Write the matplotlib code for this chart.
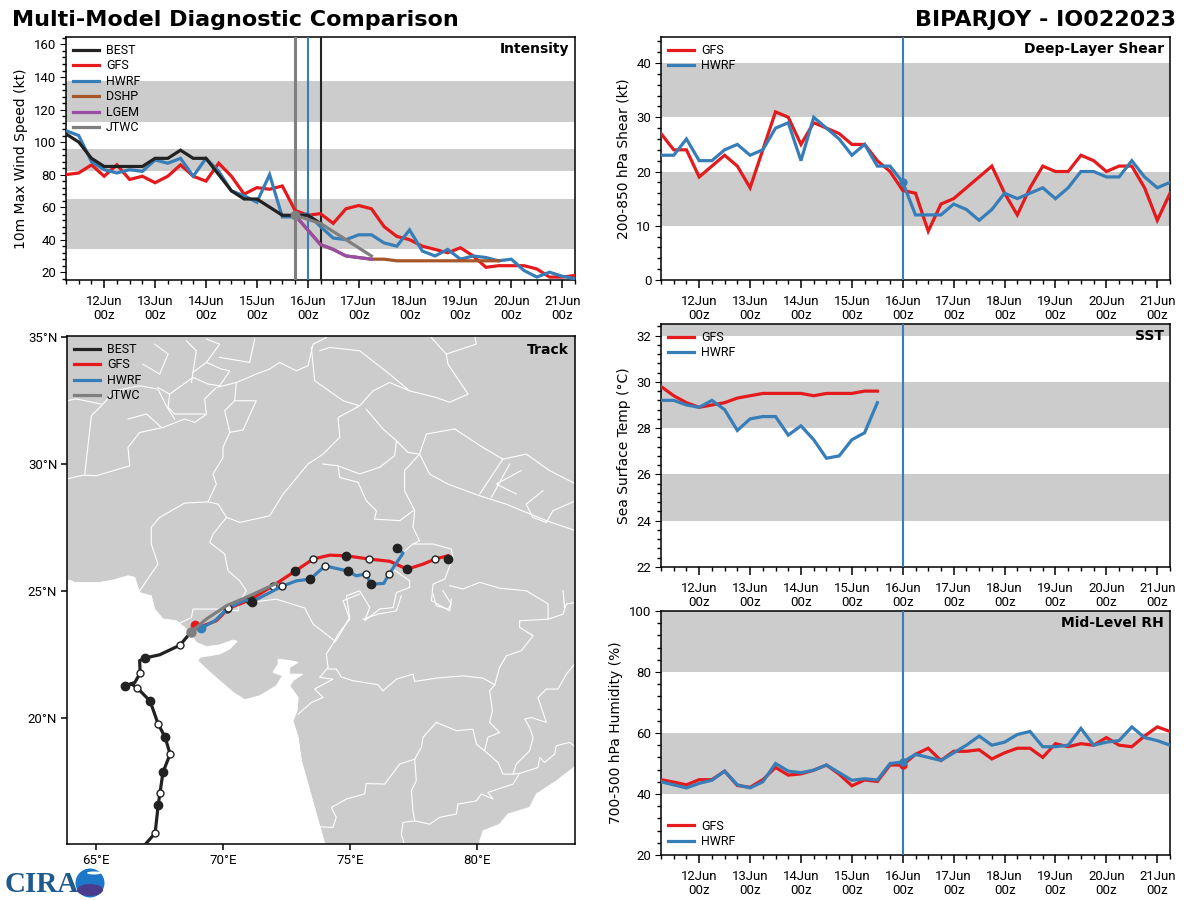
import numpy as np
import matplotlib
matplotlib.use('Agg')
import matplotlib.pyplot as plt
from matplotlib.patches import Polygon, Circle, Ellipse
from matplotlib.ticker import MultipleLocator, FixedLocator, AutoMinorLocator

RED = '#e41a1c'
BLUE = '#377eb8'
BLACK = '#222222'
BROWN = '#a65628'
PURPLE = '#984ea3'
GRAY = '#7f7f7f'
BAND = '#cccccc'
NARROW = 'Roboto'

# time axis, days of June, every 6 h
t0 = 11.25
dt = 0.25
day_ticks = [12, 13, 14, 15, 16, 17, 18, 19, 20, 21]
day_labels = ['%dJun\n00z' % d for d in day_ticks]

# intensity (kt)
int_best = [105, 100, 90, 85, 85, 85, 85, 90, 90, 95, 90, 90, 80, 70, 65, 65, 60, 55, 55, 55, 50]
int_gfs = [80, 81, 86, 79, 86, 77, 79, 75, 79, 86, 79, 76, 87, 79, 68, 72, 71, 73, 58, 55, 56, 50, 59, 61,
           59, 48, 42, 40, 36, 34, 32, 35, 30, 23, 24, 24, 24, 22, 17, 17, 18]
int_hwrf = [107, 104, 88, 83, 81, 83, 82, 89, 87, 90, 79, 90, 82, 70, 67, 63, 80, 54, 54, 56, 48, 41, 40, 43,
            43, 38, 36, 46, 33, 30, 34, 28, 30, 29, 27, 28, 21, 17, 20, 17.5, 16]
int_dshp = [55, 46, 37, 34, 30, 29, 28, 28, 27, 27, 27, 27, 27, 27, 27, 27, 27]
int_lgem = [55, 46, 37, 34, 30, 29, 28]
int_jtwc_t = [15.75, 16.25, 16.75, 17.25]
int_jtwc = [55, 50, 40, 30]

# shear (kt)
shear_gfs = [27, 24, 24, 19, 21, 23, 21, 17, 24, 31, 30, 25, 29, 28, 27, 25, 25, 22, 20, 16.5, 16, 9, 14, 15,
             17, 19, 21, 16, 12, 17, 21, 20, 20, 23, 22, 20, 21, 21, 17, 11, 16]
shear_hwrf = [23, 23, 26, 22, 22, 24, 25, 23, 24, 28, 29, 22, 30, 28, 26, 23, 25, 21, 21, 18, 12, 12, 12, 14,
              13, 11, 13, 16, 15, 16, 17, 15, 17, 20, 20, 19, 19, 22, 19, 17, 18]

# SST (C)
sst_gfs = [29.8, 29.4, 29.1, 28.9, 29.0, 29.1, 29.3, 29.4, 29.5, 29.5, 29.5, 29.5, 29.4, 29.5, 29.5, 29.5, 29.6, 29.6]
sst_hwrf = [29.2, 29.2, 29.0, 28.9, 29.2, 28.8, 27.9, 28.4, 28.5, 28.5, 27.7, 28.1, 27.5, 26.7, 26.8, 27.5, 27.8, 29.1]

# mid-level RH (%)
rh_gfs = [44.7, 43.9, 43, 44.7, 44.7, 47.5, 42.8, 42.2, 44.7, 48.7, 46.2, 46.6, 47.8, 49.5, 46.5, 42.7, 44.6, 44.1,
          49.5, 49.5, 53, 55, 51, 54, 54, 54.5, 51.5, 53.5, 55, 55, 52, 56.5, 55.5, 56.5, 56, 58.5, 56, 55.5, 59, 62, 60.5]
rh_hwrf = [44, 43, 42, 43.5, 44.5, 47.5, 43, 42, 44, 50, 47.5, 47, 47.8, 49.5, 47, 44.5, 45, 44.6, 50, 50.5,
           53, 52, 51, 53.5, 56, 59, 56, 57, 59.5, 60.5, 55.5, 55.5, 56, 61.5, 56, 57, 57.5, 62, 58.5, 57.5, 56]

# tracks
best_lon = [66.72, 67.33, 67.45, 67.52, 67.64, 67.92, 67.72, 67.45, 67.13, 66.62, 66.40, 66.15, 66.53, 66.74, 66.72, 66.92, 67.51, 68.31, 68.56, 68.76]
best_lat = [14.76, 15.46, 16.56, 17.03, 17.86, 18.57, 19.24, 19.75, 20.66, 21.18, 21.33, 21.26, 21.39, 21.76, 22.25, 22.35, 22.48, 22.86, 23.16, 23.39]
best_dark_lon = [67.45, 67.64, 67.72, 67.13, 66.15, 66.92]
best_dark_lat = [16.56, 17.86, 19.24, 20.66, 21.26, 22.35]
best_open_lon = [67.33, 67.52, 67.92, 67.45, 66.62, 66.74, 68.31]
best_open_lat = [15.46, 17.03, 18.57, 19.75, 21.18, 21.76, 22.86]

gfs_lon = [68.89, 69.22, 69.74, 70.00, 70.14, 71.05, 71.97, 72.84, 73.55, 74.20, 74.83, 75.75, 76.57, 77.25, 77.88, 78.36, 78.86]
gfs_lat = [23.66, 23.62, 23.82, 24.08, 24.28, 24.63, 25.20, 25.77, 26.25, 26.40, 26.38, 26.25, 26.16, 25.85, 26.05, 26.25, 26.38]
gfs_dark_lon = [71.05, 72.84, 74.83, 77.25, 78.86]
gfs_dark_lat = [24.63, 25.77, 26.38, 25.85, 26.25]
gfs_open_lon = [70.14, 71.97, 73.55, 75.75, 78.36]
gfs_open_lat = [24.28, 25.20, 26.25, 26.25, 26.25]

hwrf_lon = [69.15, 69.68, 70.20, 70.86, 71.15, 72.33, 72.89, 73.44, 74.02, 74.94, 75.24, 75.63, 75.83, 76.33, 76.54, 77.09, 76.85]
hwrf_lat = [23.53, 23.82, 24.32, 24.63, 24.57, 25.18, 25.39, 25.46, 25.98, 25.77, 25.59, 25.66, 25.26, 25.29, 25.66, 26.48, 26.68]
hwrf_dark_lon = [71.15, 73.44, 74.94, 75.83, 76.85]
hwrf_dark_lat = [24.57, 25.46, 25.77, 25.26, 26.68]
hwrf_open_lon = [70.20, 72.33, 74.02, 75.63, 76.54]
hwrf_open_lat = [24.32, 25.18, 25.98, 25.66, 25.66]

jtwc_lon = [68.76, 69.35, 70.14, 71.05, 72.10]
jtwc_lat = [23.39, 23.89, 24.41, 24.80, 25.29]

# land outline
coast_lon = [63.84, 63.97, 64.16, 65.15, 65.67, 66.26, 66.53, 66.72, 67.18, 67.31, 67.64, 68.17, 68.63, 68.95, 69.35,
             69.87, 70.40, 70.56, 70.27, 69.87, 69.09, 69.02, 69.35, 69.87, 70.40, 70.86, 71.45, 72.10, 72.34, 71.97,
             72.17, 72.17, 72.63, 72.96, 72.63, 72.63, 73.15, 72.76, 72.63, 72.96, 72.92, 72.76, 72.96, 73.09, 73.35,
             73.68, 74.01, 74.05, 80.05, 80.07, 80.24, 80.89, 81.22, 82.07, 82.34, 83.13, 83.90, 83.90, 63.84]
coast_lat = [25.39, 25.42, 25.33, 25.33, 25.42, 25.59, 25.53, 24.93, 24.80, 24.28, 23.89, 23.82, 23.43, 22.97, 22.80,
             22.87, 23.06, 23.01, 22.71, 22.51, 22.38, 22.24, 21.92, 21.46, 21.00, 20.71, 20.87, 21.26, 21.65, 21.79,
             22.11, 22.31, 22.25, 22.18, 21.98, 21.72, 21.72, 21.46, 21.26, 20.80, 20.28, 19.88, 19.23, 18.31, 17.39,
             16.21, 15.03, 14.9, 14.9, 15.03, 15.55, 15.81, 16.21, 16.47, 17.00, 17.52, 18.11, 35.2, 35.2]

borders = [
    # Pakistan / India
    [(68.23, 23.69), (68.76, 23.95), (68.82, 24.28), (69.74, 24.28), (70.60, 24.21), (70.60, 24.48), (70.92, 25.0),
     (70.66, 25.39), (70.20, 25.79), (70.07, 26.44), (69.48, 26.90), (69.61, 27.23), (70.14, 27.89), (70.66, 27.69),
     (71.84, 27.95), (72.37, 28.81), (73.35, 29.99), (73.94, 30.38), (74.60, 31.04), (74.53, 31.82), (75.38, 32.28)],
    # Afghanistan / Pakistan
    [(63.84, 29.40), (64.49, 29.55), (65.02, 29.53), (66.33, 29.92), (66.26, 30.64), (66.72, 31.23), (67.64, 31.43),
     (68.49, 31.76), (68.89, 31.63), (69.35, 31.95), (69.28, 32.55), (69.74, 33.00), (70.53, 33.20), (71.31, 33.53),
     (71.84, 33.73), (72.23, 33.99), (72.89, 33.66), (73.35, 33.86), (73.55, 34.71), (74.07, 34.97)],
    [(64.56, 29.59), (64.82, 31.89), (65.21, 32.28), (65.74, 32.87), (66.72, 33.07), (67.44, 32.94), (67.77, 32.28), (68.10, 31.76)],
    [(66.26, 31.76), (66.99, 31.96), (67.58, 31.43)],
    [(67.44, 33.0), (67.90, 32.74), (68.82, 33.40), (69.41, 33.14), (69.87, 33.07), (70.27, 33.66), (69.94, 33.73),
     (69.35, 33.99), (68.82, 33.60), (68.76, 33.20)],
    [(66.85, 33.92), (67.51, 33.53), (67.84, 34.32), (67.31, 34.71)],
    [(67.90, 32.74), (67.84, 32.22), (68.10, 31.96), (69.28, 31.96)],
    [(63.84, 32.48), (64.23, 32.55), (65.21, 32.35)],
    [(68.82, 33.60), (68.95, 34.45), (68.56, 34.84)],
    [(69.87, 34.19), (71.05, 33.99), (71.25, 34.91)],
    [(69.35, 33.99), (69.87, 34.71), (69.35, 34.91)],
    # Pakistan provinces
    [(66.72, 25.0), (67.44, 26.05), (67.18, 26.84), (67.18, 27.5), (67.51, 27.89), (68.49, 28.45), (69.41, 28.5),
     (69.81, 28.41), (70.14, 27.89)],
    [(69.41, 28.5), (69.74, 29.2), (69.61, 29.6), (70.0, 30.25), (70.0, 30.64), (70.27, 31.24), (70.07, 32.09),
     (70.46, 32.48), (71.31, 32.48), (70.79, 31.33), (70.27, 31.24)],
    [(70.46, 32.48), (70.53, 33.2)],
    # Kashmir / north India
    [(73.48, 34.58), (73.61, 33.27), (74.73, 32.48), (75.38, 32.28), (75.91, 32.87), (76.56, 33.20), (77.35, 32.87),
     (78.40, 32.61), (78.92, 32.42), (79.65, 32.74), (78.86, 33.92), (78.79, 34.32), (79.97, 34.71), (79.91, 35.10)],
    [(73.81, 34.45), (74.20, 34.58), (75.38, 34.45), (76.56, 33.53), (77.35, 32.87)],
    [(78.20, 34.97), (78.79, 34.32)],
    [(75.64, 32.15), (76.30, 31.37), (76.83, 30.91), (77.28, 30.45), (77.74, 30.38), (78.01, 31.17), (79.12, 31.37)],
    [(76.83, 30.91), (76.76, 30.32), (76.17, 29.86)],
    [(73.94, 29.99), (74.53, 29.92), (75.38, 29.60), (76.17, 29.86)],
    [(74.53, 29.92), (74.60, 29.46), (75.32, 29.27), (75.64, 28.55), (76.04, 28.15), (75.97, 27.82), (76.96, 27.76), (77.48, 28.15)],
    [(77.74, 30.38), (77.15, 29.73), (77.15, 28.94), (77.55, 28.15), (77.48, 27.50), (77.74, 26.97), (77.48, 26.84),
     (78.27, 26.84), (78.99, 26.64), (79.06, 26.31), (78.73, 25.46), (78.27, 25.26), (78.21, 24.61), (78.93, 24.21), (78.99, 24.67)],
    [(77.48, 26.84), (77.09, 26.51), (76.70, 25.85), (77.35, 25.39), (77.35, 25.13), (76.83, 24.93), (76.70, 24.34),
     (76.17, 24.28), (75.58, 23.82), (75.78, 24.34), (75.38, 25.0), (74.86, 24.80), (74.99, 23.95), (74.53, 23.16), (74.40, 22.97)],
    [(78.93, 25.20), (79.45, 25.07), (80.11, 25.33), (80.9, 25.1), (81.94, 25.0)],
    # Nepal
    [(77.74, 30.38), (78.14, 29.59), (78.86, 29.20), (80.11, 28.74), (81.15, 28.41), (82.73, 27.76), (83.9, 27.36)],
    [(79.12, 31.37), (80.24, 30.64), (81.02, 30.18), (81.94, 30.38), (82.86, 29.73), (83.9, 29.20)],
    [(81.02, 30.18), (80.11, 28.81)],
    [(81.29, 29.99), (80.57, 28.68)],
    [(81.74, 29.73), (80.76, 29.20), (81.55, 28.81)],
    [(82.60, 28.94), (81.94, 28.41), (82.20, 27.89), (82.73, 27.69)],
    [(83.9, 28.55), (82.99, 28.15), (82.73, 27.69)],
    # Gujarat / Rajasthan / Maharashtra
    [(70.60, 24.48), (72.10, 24.67), (73.22, 24.32), (73.55, 23.69), (74.40, 23.03), (74.07, 22.51), (74.14, 21.98),
     (73.81, 21.59), (74.33, 21.52), (73.61, 21.13), (73.94, 20.80), (73.48, 20.60), (72.96, 20.14)],
    [(74.14, 21.92), (74.46, 21.92), (74.66, 21.61), (75.12, 21.46), (76.10, 21.30), (76.30, 21.06), (76.83, 21.52),
     (77.48, 21.72), (77.55, 21.43), (78.40, 21.56), (79.45, 21.65), (80.24, 21.56), (80.70, 21.30)],
    [(80.70, 21.30), (80.89, 21.98), (81.16, 22.44), (81.75, 22.64), (82.21, 23.23), (81.68, 23.56), (81.68, 23.82),
     (82.80, 23.88), (82.80, 24.48), (81.94, 25.0)],
    [(80.70, 21.30), (80.50, 21.06), (80.61, 20.28), (80.50, 19.82), (80.89, 19.42), (80.43, 19.23), (80.30, 18.70),
     (80.83, 18.24), (81.03, 17.78), (81.42, 17.78), (81.68, 17.81)],
    [(78.40, 19.82), (79.19, 19.49), (79.84, 19.55), (79.98, 18.96), (80.30, 18.70)],
    [(78.40, 19.82), (77.88, 19.23), (77.81, 18.83), (77.55, 18.37), (77.61, 17.52), (77.42, 17.13), (77.48, 16.34), (77.55, 15.94)],
    [(77.55, 18.37), (76.96, 18.18), (76.37, 17.39), (75.64, 17.41), (75.58, 17.0), (74.86, 16.80), (74.27, 16.47),
     (74.46, 16.08), (74.33, 15.68), (73.81, 15.71), (74.0, 15.03)],
    [(77.55, 15.94), (78.14, 15.81), (78.53, 16.08), (79.19, 16.21), (79.25, 16.60), (79.98, 16.73), (80.17, 17.0),
     (80.63, 16.8), (80.43, 17.06), (81.42, 17.39), (81.68, 17.81)],
    [(77.55, 15.94), (77.09, 15.88), (77.02, 15.42), (77.15, 15.0)],
    [(81.42, 17.78), (81.55, 18.18), (82.07, 18.70), (82.21, 19.22), (82.07, 19.62), (81.88, 19.95), (82.14, 20.01),
     (82.73, 19.82), (82.40, 20.80), (82.73, 21.13), (83.19, 21.13), (83.52, 21.72), (83.9, 22.18)],
    [(81.68, 17.81), (82.40, 18.04), (82.47, 18.44), (82.66, 18.24), (83.06, 18.57), (83.12, 18.90), (83.65, 19.03), (83.9, 18.83)],
    [(82.80, 23.88), (83.39, 24.08), (83.52, 24.48), (83.9, 24.54)],
    [(83.45, 24.3), (83.39, 25.0)],
    [(74.40, 23.03), (74.53, 23.29), (74.99, 23.88), (74.73, 24.61), (75.38, 24.87)],
    [(75.51, 23.88), (76.10, 24.08), (76.83, 24.21), (77.02, 24.80)],
    [(78.27, 24.87), (78.40, 24.41), (78.86, 24.28), (78.99, 24.47), (78.66, 25.0)],
]

plt.rcParams['font.family'] = 'DejaVu Sans'
plt.rcParams['axes.linewidth'] = 1.1

W, H = 1200.0, 900.0
LW = 2.3
fig = plt.figure(figsize=(12, 9), dpi=100)


def make_axes(x0, y0, x1, y1):
    return fig.add_axes([x0 / W, 1 - y1 / H, (x1 - x0) / W, (y1 - y0) / H])


def series(ax, values, color, label=None, lw=LW, start=t0, z=4):
    t = start + dt * np.arange(len(values))
    ax.plot(t, values, color=color, lw=lw, label=label, zorder=z, solid_joinstyle='miter')


def narrow_ticks(ax, size=9.5):
    for lab in ax.get_xticklabels() + ax.get_yticklabels():
        lab.set_family(NARROW)
        lab.set_fontsize(size)
        lab.set_linespacing(1.05)


def style_time(ax, ylim, ymajor, ylabel, bands, title):
    ax.set_xlim(11.25, 21.25)
    ax.set_ylim(*ylim)
    ax.set_xticks(day_ticks)
    ax.set_xticklabels(day_labels)
    ax.xaxis.set_minor_locator(MultipleLocator(0.25))
    ax.yaxis.set_major_locator(MultipleLocator(ymajor))
    ax.yaxis.set_minor_locator(AutoMinorLocator(5))
    ax.tick_params(axis='y', length=4, pad=3)
    ax.tick_params(axis='x', length=6, width=1.1, pad=5)
    ax.tick_params(which='minor', length=3, width=1)
    narrow_ticks(ax)
    ax.set_ylabel(ylabel, fontsize=10, labelpad=4)
    for lo, hi in bands:
        ax.axhspan(lo, hi, color=BAND, lw=0, zorder=1)
    ax.text(0.988, 0.95, title, transform=ax.transAxes, ha='right', va='center',
            fontsize=10, fontweight='bold', zorder=8)


LEG = dict(frameon=False, prop={'family': NARROW, 'size': 9}, handlelength=2.1, labelspacing=0.2,
           borderaxespad=0.15, handletextpad=0.55)


# intensity
ax1 = make_axes(66, 37, 575, 280)
style_time(ax1, (15.2, 164.6), 20, '10m Max Wind Speed (kt)',
           [(34.5, 65), (82.5, 95.5), (112.5, 137.5)], 'Intensity')
ax1.axvline(15.75, color=GRAY, lw=2.2, zorder=3)
ax1.axvline(16, color=BLUE, lw=1.5, zorder=3)
ax1.axvline(16.25, color=BLACK, lw=1.5, zorder=3)
series(ax1, int_gfs, RED, 'GFS', z=4)
series(ax1, int_hwrf, BLUE, 'HWRF', z=5)
series(ax1, int_dshp, BROWN, 'DSHP', start=15.75, z=5)
series(ax1, int_lgem, PURPLE, 'LGEM', start=15.75, z=6)
series(ax1, int_best, BLACK, 'BEST', z=6)
ax1.plot(int_jtwc_t, int_jtwc, color=GRAY, lw=LW, label='JTWC', zorder=7)
ax1.plot(int_jtwc_t[0], int_jtwc[0], 'o', color=GRAY, ms=6, zorder=7)
handles, labels = ax1.get_legend_handles_labels()
order = ['BEST', 'GFS', 'HWRF', 'DSHP', 'LGEM', 'JTWC']
ax1.legend([handles[labels.index(n)] for n in order], order, loc='upper left', **LEG)

# shear
ax2 = make_axes(661, 37, 1170, 280)
style_time(ax2, (0, 44.8), 10, '200-850 hPa Shear (kt)', [(10, 20), (30, 40)], 'Deep-Layer Shear')
ax2.axvline(16, color=BLUE, lw=1.5, zorder=3)
series(ax2, shear_gfs, RED, 'GFS')
series(ax2, shear_hwrf, BLUE, 'HWRF', z=5)
ax2.plot(16, shear_hwrf[19], 'o', color=BLUE, ms=5, zorder=5)
ax2.legend(loc='upper left', **LEG)

# SST
ax3 = make_axes(661, 324, 1170, 567)
style_time(ax3, (22, 32.5), 2, 'Sea Surface Temp (°C)', [(24, 26), (28, 30), (32, 34)], 'SST')
ax3.axvline(16, color=BLUE, lw=1.5, zorder=3)
series(ax3, sst_gfs, RED, 'GFS')
series(ax3, sst_hwrf, BLUE, 'HWRF', z=5)
ax3.legend(loc='upper left', **LEG)

# RH
ax4 = make_axes(661, 611, 1170, 855)
style_time(ax4, (20, 100), 20, '700-500 hPa Humidity (%)', [(40, 60), (80, 100)], 'Mid-Level RH')
ax4.axvline(16, color=BLUE, lw=1.5, zorder=3)
series(ax4, rh_gfs, RED, 'GFS')
series(ax4, rh_hwrf, BLUE, 'HWRF', z=5)
ax4.plot(16, rh_gfs[19], 'o', color=RED, ms=5, zorder=4)
ax4.plot(16, rh_hwrf[19], 'o', color=BLUE, ms=5, zorder=5)
ax4.legend(loc='lower left', **LEG)

# track map
ax5 = make_axes(67, 336, 575, 844)
ax5.set_xlim(63.86, 83.86)
ax5.set_ylim(15.03, 35.03)
ax5.add_patch(Polygon(np.column_stack([coast_lon, coast_lat]), closed=True, fc=BAND, ec='white', lw=0.6, zorder=1))
for b in borders:
    pts = np.array(b)
    ax5.plot(pts[:, 0], pts[:, 1], color='white', lw=0.8, zorder=2)
ax5.xaxis.set_major_locator(FixedLocator([65, 70, 75, 80]))
ax5.yaxis.set_major_locator(FixedLocator([20, 25, 30, 35]))
ax5.set_xticklabels(['65°E', '70°E', '75°E', '80°E'])
ax5.set_yticklabels(['20°N', '25°N', '30°N', '35°N'])
ax5.tick_params(length=4, width=1.1, pad=3)
narrow_ticks(ax5)


def track(lon, lat, dlon, dlat, olon, olat, color, label, z):
    ax5.plot(lon, lat, color=color, lw=LW, label=label, zorder=z)
    ax5.plot(dlon, dlat, 'o', color=BLACK, ms=6, zorder=z + 0.1)
    ax5.plot(olon, olat, 'o', mfc='white', mec=BLACK, mew=1, ms=5, zorder=z + 0.2)


track(gfs_lon, gfs_lat, gfs_dark_lon, gfs_dark_lat, gfs_open_lon, gfs_open_lat, RED, 'GFS', 4)
ax5.plot(gfs_lon[0], gfs_lat[0], 'o', color=RED, ms=6, zorder=4)
track(hwrf_lon, hwrf_lat, hwrf_dark_lon, hwrf_dark_lat, hwrf_open_lon, hwrf_open_lat, BLUE, 'HWRF', 5)
ax5.plot(hwrf_lon[0], hwrf_lat[0], 'o', color=BLUE, ms=6, zorder=5)
track(best_lon, best_lat, best_dark_lon, best_dark_lat, best_open_lon, best_open_lat, BLACK, 'BEST', 6)
ax5.plot(jtwc_lon, jtwc_lat, color=GRAY, lw=LW, label='JTWC', zorder=7)
ax5.plot(jtwc_lon[0], jtwc_lat[0], 'o', color=GRAY, ms=6.5, zorder=7)
handles, labels = ax5.get_legend_handles_labels()
order = ['BEST', 'GFS', 'HWRF', 'JTWC']
ax5.legend([handles[labels.index(n)] for n in order], order, loc='upper left', **LEG)
ax5.text(0.988, 0.972, 'Track', transform=ax5.transAxes, ha='right', va='center', fontsize=10, fontweight='bold', zorder=8)

# titles
fig.text(12 / W, 1 - 20 / H, 'Multi-Model Diagnostic Comparison', fontsize=16, fontweight='bold', va='center')
fig.text(1176 / W, 1 - 20 / H, 'BIPARJOY - IO022023', fontsize=16, fontweight='bold', va='center', ha='right')

# CIRA logo, pixel coordinates of the figure
logo = fig.add_axes([0, 0, 120 / W, 40 / H])
logo.set_xlim(0, 120)
logo.set_ylim(40, 0)
logo.axis('off')
logo.patch.set_alpha(0)
logo.text(5, 24, 'CIRA', fontsize=21, fontweight='bold', family='Liberation Serif', color='#1f5a8c', va='center', ha='left')
logo.add_patch(Circle((90, 23), 14.5, fc='#1e78c8', ec='none'))
logo.add_patch(Ellipse((90, 30), 26, 12, fc='#4a3d8f', ec='none'))
logo.add_patch(Ellipse((94, 13), 14, 3, fc='white', ec='none'))

fig.savefig('out.png', dpi=100)
